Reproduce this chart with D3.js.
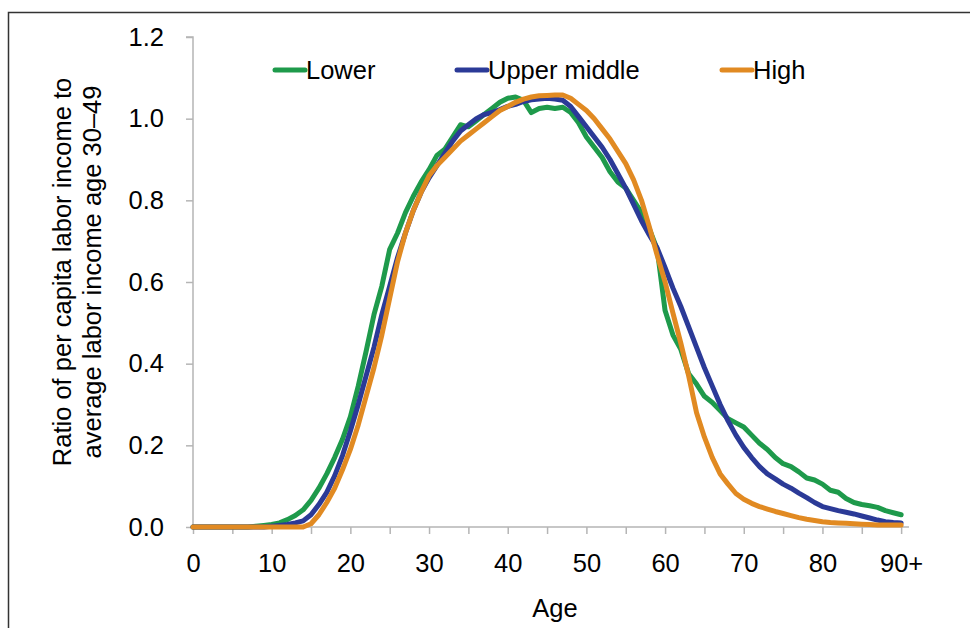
<!DOCTYPE html>
<html>
<head>
<meta charset="utf-8">
<script src="https://cdn.jsdelivr.net/npm/d3@7"></script>
<style>
  html, body { margin: 0; padding: 0; background: #fff; }
  svg { display: block; font-family: "Liberation Sans", Arial, Helvetica, sans-serif; }
</style>
</head>
<body>
<svg id="chart" width="970" height="628"></svg>
<script>
// ---- Data ----
const ages = d3.range(0, 91);
const seriesNames = ["Lower", "Upper middle", "High"];
const lower = [
  0,0,0,0,0,0,0,0,0.002,0.004,
  0.006,0.010,0.018,0.028,0.042,0.065,0.095,0.13,0.17,0.215,
  0.27,0.345,0.43,0.52,0.59,0.68,0.72,0.77,0.81,0.845,
  0.875,0.91,0.925,0.955,0.985,0.98,0.995,1.01,1.025,1.04,
  1.05,1.053,1.045,1.015,1.025,1.028,1.025,1.028,1.015,0.99,
  0.955,0.93,0.905,0.87,0.845,0.83,0.80,0.77,0.73,0.68,
  0.53,0.47,0.435,0.375,0.35,0.32,0.305,0.285,0.265,0.255,
  0.245,0.225,0.205,0.19,0.17,0.155,0.148,0.135,0.12,0.115,
  0.105,0.09,0.085,0.07,0.06,0.055,0.052,0.048,0.04,0.035,
  0.03
];
const upperMiddle = [
  0,0,0,0,0,0,0,0,0,0,
  0.002,0.004,0.006,0.010,0.015,0.03,0.055,0.085,0.125,0.175,
  0.235,0.30,0.37,0.44,0.52,0.59,0.66,0.72,0.775,0.82,
  0.855,0.885,0.915,0.945,0.97,0.985,1.0,1.01,1.015,1.022,
  1.03,1.035,1.042,1.046,1.048,1.05,1.048,1.045,1.03,1.005,
  0.98,0.955,0.93,0.90,0.865,0.83,0.79,0.75,0.715,0.683,
  0.635,0.585,0.54,0.49,0.44,0.39,0.345,0.30,0.26,0.225,
  0.195,0.17,0.148,0.13,0.118,0.105,0.095,0.083,0.072,0.06,
  0.05,0.045,0.04,0.036,0.032,0.027,0.022,0.017,0.013,0.011,
  0.01
];
const high = [
  0,0,0,0,0,0,0,0,0,0,
  0,0,0,0,0,0.008,0.03,0.06,0.095,0.14,
  0.19,0.25,0.32,0.39,0.47,0.56,0.65,0.72,0.775,0.82,
  0.86,0.885,0.905,0.925,0.945,0.96,0.975,0.99,1.005,1.02,
  1.03,1.04,1.048,1.053,1.056,1.057,1.058,1.058,1.05,1.035,
  1.02,1.0,0.975,0.95,0.92,0.89,0.85,0.80,0.735,0.665,
  0.60,0.524,0.45,0.37,0.28,0.22,0.17,0.13,0.105,0.082,
  0.068,0.058,0.05,0.044,0.038,0.033,0.028,0.023,0.019,0.016,
  0.013,0.011,0.010,0.009,0.008,0.007,0.006,0.005,0.005,0.005,
  0.005
];
const yTicks = [0, 0.2, 0.4, 0.6, 0.8, 1.0, 1.2];
const xTickValues = d3.range(0, 91, 5);
const xTickLabels = {0:"0",10:"10",20:"20",30:"30",40:"40",50:"50",60:"60",70:"70",80:"80",90:"90+"};
const colors = ["#1e9a4b", "#2b3a97", "#e18a22"];

// ---- Chart ----
const svg = d3.select("#chart");
const x = d3.scaleLinear().domain([0, 91]).range([193, 909]);
const y = d3.scaleLinear().domain([0, 1.2]).range([527, 37]);
const FS = 25.5;

// frame
svg.append("path")
  .attr("d", "M8.5,628 L8.5,12.5 L970,12.5")
  .attr("fill", "none").attr("stroke", "#333").attr("stroke-width", 1.5);

// y axis
const yAxis = d3.axisLeft(y).tickValues(yTicks).tickSize(7).tickPadding(22)
  .tickFormat(d3.format(".1f"));
const gy = svg.append("g").attr("transform", "translate(193,0)").call(yAxis);
gy.select(".domain").attr("stroke", "#b5b5b5").attr("stroke-width", 1.5)
  .attr("d", `M-7,${y(1.2)}H0V${y(0)}`);
gy.selectAll(".tick line").attr("stroke", "#b5b5b5").attr("stroke-width", 1.5);
gy.selectAll(".tick text").attr("font-size", FS).attr("fill", "#000")
  .attr("font-family", "Liberation Sans, Arial, sans-serif");

// x axis
const xAxis = d3.axisBottom(x).tickValues(xTickValues).tickSize(7).tickPadding(20)
  .tickFormat(d => xTickLabels[d] || "");
const gx = svg.append("g").attr("transform", "translate(0,527)").call(xAxis);
gx.select(".domain").attr("stroke", "#b5b5b5").attr("stroke-width", 1.5)
  .attr("d", `M${x(0)},0H${x(91)}`);
gx.selectAll(".tick line").attr("stroke", "#b5b5b5").attr("stroke-width", 1.5);
gx.selectAll(".tick text").attr("font-size", FS).attr("fill", "#000")
  .attr("font-family", "Liberation Sans, Arial, sans-serif");

// axis titles
svg.append("text").attr("x", 555).attr("y", 617).attr("text-anchor", "middle")
  .attr("font-size", FS).text("Age");
const yt = svg.append("text").attr("transform", "rotate(-90)")
  .attr("text-anchor", "middle").attr("font-size", FS);
yt.append("tspan").attr("x", -272).attr("y", 71).text("Ratio of per capita labor income to");
yt.append("tspan").attr("x", -272).attr("y", 101).text("average labor income age 30\u201349");

// lines
const data = [lower, upperMiddle, high];
const line = d3.line().x((d, i) => x(ages[i])).y(d => y(d));
svg.selectAll("path.series").data(data).enter().append("path")
  .attr("class", "series")
  .attr("d", d => line(d))
  .attr("fill", "none")
  .attr("stroke", (d, i) => colors[i])
  .attr("stroke-width", 5)
  .attr("stroke-linejoin", "round")
  .attr("stroke-linecap", "round");

// legend
const legendX = [275, 457, 722];
const lg = svg.append("g");
seriesNames.forEach((name, i) => {
  lg.append("line").attr("x1", legendX[i]).attr("x2", legendX[i] + 30)
    .attr("y1", 70).attr("y2", 70)
    .attr("stroke", colors[i]).attr("stroke-width", 5).attr("stroke-linecap", "round");
  lg.append("text").attr("x", legendX[i] + 31).attr("y", 79)
    .attr("font-size", FS).attr("fill", "#000").text(name);
});
</script>
</body>
</html>
